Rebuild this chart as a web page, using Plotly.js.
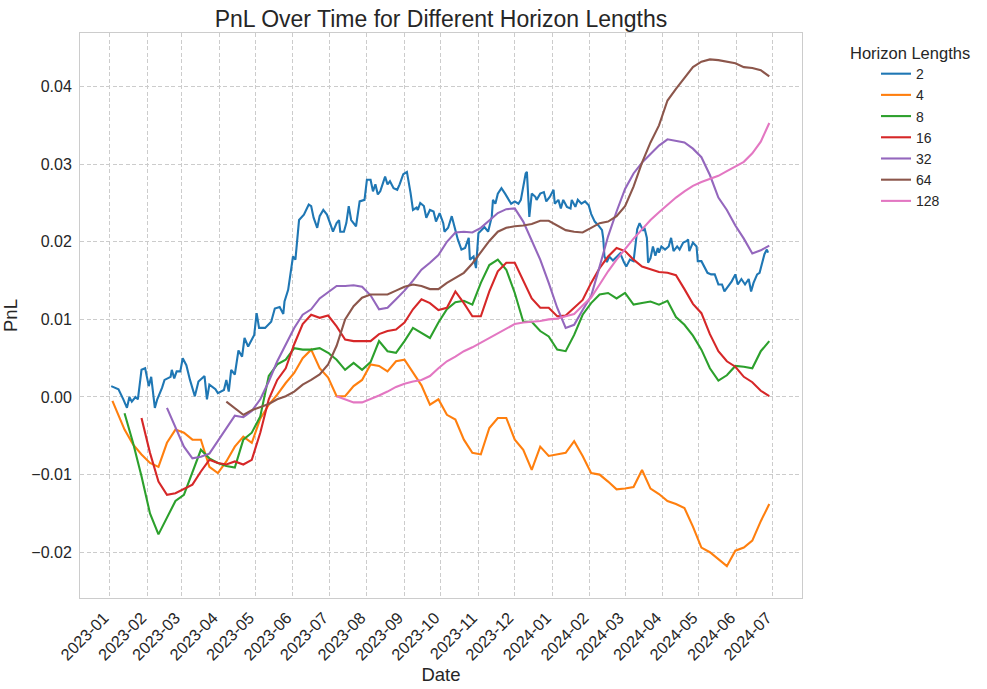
<!DOCTYPE html>
<html>
<head>
<meta charset="utf-8">
<script src="https://cdn.plot.ly/plotly-3.0.1.min.js"></script>
<style>
  html, body { margin: 0; padding: 0; background: #fff; }
  #chart { width: 987px; height: 689px; }
</style>
</head>
<body>
<div id="chart"></div>
<script>
// horizon 2 is noisy, so it keeps its own (denser) dates
var dates_2 = [
  "2023-01-02", "2023-01-08", "2023-01-12", "2023-01-15", "2023-01-17", "2023-01-19", "2023-01-22", "2023-01-24", "2023-01-26", "2023-01-27", "2023-01-30",
  "2023-02-02", "2023-02-04", "2023-02-07", "2023-02-09", "2023-02-13", "2023-02-15", "2023-02-20", "2023-02-21", "2023-02-23", "2023-02-25", "2023-02-28",
  "2023-03-02", "2023-03-05", "2023-03-08", "2023-03-12", "2023-03-15", "2023-03-20", "2023-03-22", "2023-03-24", "2023-03-29", "2023-03-31",
  "2023-04-05", "2023-04-07", "2023-04-09", "2023-04-11", "2023-04-14", "2023-04-17", "2023-04-20", "2023-04-22", "2023-04-25", "2023-04-30",
  "2023-05-02", "2023-05-04", "2023-05-09", "2023-05-14", "2023-05-17", "2023-05-21", "2023-05-24", "2023-05-25", "2023-05-28",
  "2023-06-01", "2023-06-03", "2023-06-06", "2023-06-10", "2023-06-14", "2023-06-16", "2023-06-18", "2023-06-21", "2023-06-23", "2023-06-26", "2023-06-29",
  "2023-07-02", "2023-07-04", "2023-07-07", "2023-07-09", "2023-07-10", "2023-07-13", "2023-07-15", "2023-07-17", "2023-07-19", "2023-07-23", "2023-07-26", "2023-07-30",
  "2023-08-01", "2023-08-04", "2023-08-06", "2023-08-08", "2023-08-10", "2023-08-12", "2023-08-16", "2023-08-18", "2023-08-20", "2023-08-23", "2023-08-26", "2023-08-28", "2023-08-31",
  "2023-09-03", "2023-09-06", "2023-09-08", "2023-09-11", "2023-09-12", "2023-09-14", "2023-09-17", "2023-09-19", "2023-09-22", "2023-09-25", "2023-09-27", "2023-09-30",
  "2023-10-03", "2023-10-04", "2023-10-07", "2023-10-10", "2023-10-13", "2023-10-15", "2023-10-18", "2023-10-21", "2023-10-24", "2023-10-25", "2023-10-28", "2023-10-30",
  "2023-11-01", "2023-11-06", "2023-11-09", "2023-11-12", "2023-11-13", "2023-11-15", "2023-11-17", "2023-11-20", "2023-11-23", "2023-11-26", "2023-11-28",
  "2023-12-01", "2023-12-04", "2023-12-06", "2023-12-08", "2023-12-10", "2023-12-11", "2023-12-13", "2023-12-15", "2023-12-18", "2023-12-19", "2023-12-22", "2023-12-25", "2023-12-27", "2023-12-30",
  "2024-01-02", "2024-01-03", "2024-01-06", "2024-01-08", "2024-01-10", "2024-01-13", "2024-01-16", "2024-01-17", "2024-01-20", "2024-01-22", "2024-01-25", "2024-01-28", "2024-01-31",
  "2024-02-02", "2024-02-05", "2024-02-08", "2024-02-11", "2024-02-12", "2024-02-13", "2024-02-15", "2024-02-17", "2024-02-20", "2024-02-23", "2024-02-26", "2024-02-29",
  "2024-03-02", "2024-03-05", "2024-03-08", "2024-03-10", "2024-03-11", "2024-03-13", "2024-03-16", "2024-03-17", "2024-03-19", "2024-03-20", "2024-03-22", "2024-03-24", "2024-03-26", "2024-03-28", "2024-03-29", "2024-03-31",
  "2024-04-03", "2024-04-06", "2024-04-08", "2024-04-10", "2024-04-13", "2024-04-15", "2024-04-18", "2024-04-21", "2024-04-22", "2024-04-23", "2024-04-26", "2024-04-29", "2024-04-30",
  "2024-05-03", "2024-05-06", "2024-05-08", "2024-05-11", "2024-05-14", "2024-05-17", "2024-05-20", "2024-05-22", "2024-05-25", "2024-05-28", "2024-05-31",
  "2024-06-02", "2024-06-05", "2024-06-08", "2024-06-11", "2024-06-13", "2024-06-15", "2024-06-18", "2024-06-20", "2024-06-22", "2024-06-24", "2024-06-26", "2024-06-27"
];

var pnl_2 = [
  0.0014, 0.0010, -0.0003, -0.0014, 0.0000, -0.0006, 0.0000, -0.0003, 0.0022, 0.0035, 0.0037,
  0.0014, 0.0026, -0.0014, -0.0003, 0.0012, 0.0022, 0.0026, 0.0035, 0.0024, 0.0033, 0.0033,
  0.0050, 0.0041, 0.0022, 0.0001, 0.0020, 0.0027, -0.0003, 0.0016, 0.0010, 0.0005,
  0.0009, 0.0022, 0.0007, 0.0035, 0.0029, 0.0060, 0.0052, 0.0076, 0.0065, 0.0080,
  0.0108, 0.0089, 0.0089, 0.0097, 0.0114, 0.0116, 0.0107, 0.0123, 0.0138,
  0.0181, 0.0177, 0.0228, 0.0235, 0.0248, 0.0246, 0.0231, 0.0218, 0.0233, 0.0241, 0.0235,
  0.0222, 0.0213, 0.0224, 0.0228, 0.0213, 0.0213, 0.0224, 0.0246, 0.0228, 0.0220, 0.0252, 0.0254,
  0.0280, 0.0280, 0.0265, 0.0274, 0.0261, 0.0265, 0.0284, 0.0274, 0.0278, 0.0269, 0.0267, 0.0274, 0.0287,
  0.0290, 0.0263, 0.0241, 0.0244, 0.0241, 0.0250, 0.0246, 0.0231, 0.0241, 0.0239, 0.0226, 0.0237,
  0.0224, 0.0213, 0.0218, 0.0233, 0.0213, 0.0203, 0.0190, 0.0192, 0.0205, 0.0177, 0.0181, 0.0166,
  0.0211, 0.0219, 0.0213, 0.0232, 0.0254, 0.0249, 0.0262, 0.0269, 0.0262, 0.0254, 0.0249,
  0.0252, 0.0249, 0.0254, 0.0271, 0.0288, 0.0290, 0.0232, 0.0262, 0.0258, 0.0254, 0.0262, 0.0264, 0.0252, 0.0258,
  0.0267, 0.0249, 0.0254, 0.0243, 0.0254, 0.0245, 0.0243, 0.0254, 0.0245, 0.0254, 0.0249, 0.0252, 0.0247,
  0.0236, 0.0226, 0.0221, 0.0215, 0.0204, 0.0181, 0.0174, 0.0181, 0.0176, 0.0181, 0.0185, 0.0174,
  0.0168, 0.0177, 0.0175, 0.0201, 0.0216, 0.0224, 0.0214, 0.0218, 0.0205, 0.0173, 0.0179, 0.0194, 0.0182, 0.0192, 0.0186, 0.0194,
  0.0190, 0.0194, 0.0205, 0.0188, 0.0194, 0.0190, 0.0199, 0.0201, 0.0203, 0.0188, 0.0199, 0.0194, 0.0175,
  0.0175, 0.0167, 0.0160, 0.0158, 0.0158, 0.0145, 0.0145, 0.0136, 0.0143, 0.0149, 0.0158,
  0.0145, 0.0152, 0.0145, 0.0152, 0.0136, 0.0147, 0.0158, 0.0160, 0.0171, 0.0184, 0.0190, 0.0186
];

// weekly samples for the other horizons
var dates = [
  "2023-01-03", "2023-01-13", "2023-01-20", "2023-01-27",
  "2023-02-03", "2023-02-10", "2023-02-17", "2023-02-24",
  "2023-03-03", "2023-03-10", "2023-03-17", "2023-03-24", "2023-03-31",
  "2023-04-07", "2023-04-14", "2023-04-21", "2023-04-28",
  "2023-05-05", "2023-05-12", "2023-05-19", "2023-05-26",
  "2023-06-02", "2023-06-09", "2023-06-16", "2023-06-23", "2023-06-30",
  "2023-07-07", "2023-07-14", "2023-07-21", "2023-07-28",
  "2023-08-04", "2023-08-11", "2023-08-18", "2023-08-25",
  "2023-09-01", "2023-09-08", "2023-09-15", "2023-09-22", "2023-09-29",
  "2023-10-06", "2023-10-13", "2023-10-20", "2023-10-27",
  "2023-11-03", "2023-11-10", "2023-11-17", "2023-11-24",
  "2023-12-01", "2023-12-08", "2023-12-15", "2023-12-22", "2023-12-29",
  "2024-01-05", "2024-01-12", "2024-01-19", "2024-01-26",
  "2024-02-02", "2024-02-09", "2024-02-16", "2024-02-23",
  "2024-03-01", "2024-03-08", "2024-03-15", "2024-03-22", "2024-03-29",
  "2024-04-05", "2024-04-12", "2024-04-19", "2024-04-26",
  "2024-05-03", "2024-05-10", "2024-05-17", "2024-05-24", "2024-05-31",
  "2024-06-07", "2024-06-14", "2024-06-21", "2024-06-28"
];

var pnl_4 = [
  -0.0005, -0.0042, -0.0061, -0.0074, -0.0085, -0.0090, -0.0059, -0.0042,
  -0.0046, -0.0055, -0.0055, -0.0090, -0.0098, -0.0083, -0.0064, -0.0051, -0.0059,
  -0.0028, -0.0010, 0.0003, 0.0018, 0.0031, 0.0050, 0.0061, 0.0037, 0.0025,
  0.0001, 0.0001, 0.0014, 0.0022, 0.0042, 0.0040, 0.0033, 0.0046,
  0.0048, 0.0031, 0.0015, -0.0010, -0.0003, -0.0023, -0.0029, -0.0055, -0.0072,
  -0.0074, -0.0040, -0.0027, -0.0027, -0.0055, -0.0068, -0.0094, -0.0064, -0.0076,
  -0.0074, -0.0072, -0.0057, -0.0076, -0.0098, -0.0100, -0.0109, -0.0119,
  -0.0118, -0.0116, -0.0094, -0.0118, -0.0125, -0.0134, -0.0138, -0.0143, -0.0167,
  -0.0194, -0.0200, -0.0209, -0.0218, -0.0198, -0.0194, -0.0185, -0.0160, -0.0138
];

var pnl_8 = [
  null, -0.0021, -0.0059, -0.0102, -0.0150, -0.0177, -0.0156, -0.0134,
  -0.0126, -0.0098, -0.0068, -0.0079, -0.0085, -0.0089, -0.0091, -0.0055, -0.0046,
  -0.0025, 0.0027, 0.0042, 0.0048, 0.0063, 0.0061, 0.0061, 0.0063, 0.0057,
  0.0048, 0.0035, 0.0044, 0.0035, 0.0045, 0.0072, 0.0059, 0.0057,
  0.0072, 0.0089, 0.0083, 0.0076, 0.0096, 0.0113, 0.0122, 0.0124, 0.0119,
  0.0147, 0.0170, 0.0177, 0.0164, 0.0134, 0.0097, 0.0097, 0.0085, 0.0078,
  0.0061, 0.0059, 0.0080, 0.0106, 0.0121, 0.0132, 0.0134, 0.0127,
  0.0134, 0.0119, 0.0121, 0.0123, 0.0119, 0.0124, 0.0103, 0.0093, 0.0079,
  0.0061, 0.0037, 0.0021, 0.0028, 0.0040, 0.0039, 0.0037, 0.0059, 0.0072
];

var pnl_16 = [
  null, null, null, -0.0027, -0.0072, -0.0109, -0.0126, -0.0124,
  -0.0119, -0.0113, -0.0096, -0.0081, -0.0085, -0.0087, -0.0083, -0.0087, -0.0081,
  -0.0046, -0.0003, 0.0022, 0.0037, 0.0068, 0.0094, 0.0106, 0.0102, 0.0105,
  0.0091, 0.0074, 0.0072, 0.0072, 0.0072, 0.0081, 0.0085, 0.0087,
  0.0096, 0.0113, 0.0126, 0.0121, 0.0112, 0.0115, 0.0136, 0.0121, 0.0104,
  0.0104, 0.0136, 0.0162, 0.0173, 0.0173, 0.0151, 0.0127, 0.0115, 0.0115,
  0.0104, 0.0105, 0.0115, 0.0125, 0.0147, 0.0166, 0.0181, 0.0192,
  0.0188, 0.0177, 0.0168, 0.0164, 0.0161, 0.0160, 0.0157, 0.0139, 0.0120,
  0.0108, 0.0081, 0.0059, 0.0046, 0.0039, 0.0026, 0.0019, 0.0008, 0.0001
];

var pnl_32 = [
  null, null, null, null, null, null, -0.0014, -0.0040,
  -0.0064, -0.0079, -0.0077, -0.0073, -0.0057, -0.0040, -0.0024, -0.0026, -0.0018,
  -0.0003, 0.0020, 0.0046, 0.0068, 0.0089, 0.0106, 0.0113, 0.0127, 0.0135,
  0.0143, 0.0143, 0.0144, 0.0142, 0.0131, 0.0113, 0.0115, 0.0126,
  0.0137, 0.0150, 0.0164, 0.0173, 0.0183, 0.0200, 0.0212, 0.0213, 0.0212,
  0.0218, 0.0228, 0.0237, 0.0242, 0.0243, 0.0226, 0.0202, 0.0177, 0.0147,
  0.0115, 0.0089, 0.0093, 0.0112, 0.0130, 0.0168, 0.0207, 0.0239,
  0.0268, 0.0288, 0.0302, 0.0313, 0.0324, 0.0332, 0.0330, 0.0328, 0.0320,
  0.0309, 0.0286, 0.0257, 0.0241, 0.0221, 0.0204, 0.0185, 0.0189, 0.0195
];

var pnl_64 = [
  null, null, null, null, null, null, null, null,
  null, null, null, null, null, -0.0006, -0.0014, -0.0023, -0.0017,
  -0.0013, -0.0009, -0.0003, 0.0001, 0.0007, 0.0016, 0.0022, 0.0029, 0.0042,
  0.0066, 0.0100, 0.0117, 0.0128, 0.0132, 0.0132, 0.0132, 0.0137,
  0.0142, 0.0145, 0.0143, 0.0139, 0.0139, 0.0147, 0.0153, 0.0160, 0.0172,
  0.0186, 0.0201, 0.0213, 0.0218, 0.0220, 0.0221, 0.0223, 0.0227, 0.0227,
  0.0221, 0.0215, 0.0213, 0.0212, 0.0218, 0.0224, 0.0226, 0.0233,
  0.0246, 0.0271, 0.0302, 0.0328, 0.0350, 0.0382, 0.0397, 0.0411, 0.0425,
  0.0432, 0.0435, 0.0434, 0.0432, 0.0430, 0.0425, 0.0424, 0.0421, 0.0413
];

var pnl_128 = [
  null, null, null, null, null, null, null, null,
  null, null, null, null, null, null, null, null, null,
  null, null, null, null, null, null, null, null, null,
  0.0001, -0.0003, -0.0007, -0.0007, -0.0003, 0.0002, 0.0007, 0.0013,
  0.0017, 0.0020, 0.0022, 0.0027, 0.0037, 0.0046, 0.0052, 0.0059, 0.0064,
  0.0070, 0.0076, 0.0082, 0.0089, 0.0094, 0.0096, 0.0097, 0.0098, 0.0100,
  0.0101, 0.0104, 0.0107, 0.0118, 0.0128, 0.0145, 0.0162, 0.0177,
  0.0191, 0.0204, 0.0216, 0.0228, 0.0238, 0.0248, 0.0257, 0.0265, 0.0272,
  0.0277, 0.0281, 0.0285, 0.0291, 0.0297, 0.0303, 0.0314, 0.0329, 0.0353
];

var horizons = ["2", "4", "8", "16", "32", "64", "128"];
var series = [pnl_2, pnl_4, pnl_8, pnl_16, pnl_32, pnl_64, pnl_128];
var series_x = [dates_2, dates, dates, dates, dates, dates, dates];
var colors = ["#1f77b4", "#ff7f0e", "#2ca02c", "#d62728", "#9467bd", "#8c564b", "#e377c2"];

var y_ticks = [-0.02, -0.01, 0.0, 0.01, 0.02, 0.03, 0.04];
var y_ticktext = ["\u22120.02", "\u22120.01", "0.00", "0.01", "0.02", "0.03", "0.04"];

var traces = [];
for (var i = 0; i < horizons.length; i++) {
  traces.push({
    x: series_x[i],
    y: series[i],
    name: horizons[i],
    type: 'scatter',
    mode: 'lines',
    line: {color: colors[i], width: 2.1},
    connectgaps: false
  });
}

var textColor = '#262626';
var font = "'Liberation Sans', Arial, sans-serif";

var layout = {
  width: 987,
  height: 689,
  margin: {l: 80, r: 185, t: 33, b: 91},
  paper_bgcolor: '#ffffff',
  plot_bgcolor: '#ffffff',
  font: {family: font, color: textColor},
  title: {
    text: 'PnL Over Time for Different Horizon Lengths',
    font: {size: 23, color: textColor},
    x: 0.5, xref: 'paper', xanchor: 'center',
    y: 0.972, yref: 'container', yanchor: 'middle'
  },
  xaxis: {
    type: 'date',
    range: ['2022-12-07 06:00', '2024-07-25'],
    tick0: '2023-01-01',
    dtick: 'M1',
    tickformat: '%Y-%m',
    tickangle: -45,
    tickfont: {size: 16.3, color: textColor},
    ticks: '',
    ticklabelshift: -6,
    ticklabelstandoff: 3,
    showgrid: true,
    gridcolor: '#cccccc',
    gridwidth: 1,
    griddash: '4px,2.5px',
    showline: true,
    mirror: true,
    linecolor: '#cccccc',
    linewidth: 1,
    zeroline: false,
    automargin: false,
    title: {text: 'Date', font: {size: 18.5, color: textColor}, standoff: 0}
  },
  yaxis: {
    range: [-0.0259, 0.0469],
    tickmode: 'array',
    tickvals: y_ticks,
    ticktext: y_ticktext,
    tickfont: {size: 16, color: textColor},
    ticks: '',
    ticklabelstandoff: 4,
    showgrid: true,
    gridcolor: '#cccccc',
    gridwidth: 1,
    griddash: '4px,2.5px',
    showline: true,
    mirror: true,
    linecolor: '#cccccc',
    linewidth: 1,
    zeroline: false,
    automargin: false,
    title: {text: 'PnL', font: {size: 18.5, color: textColor}, standoff: 8}
  },
  showlegend: true,
  legend: {
    x: 1.1025, xanchor: 'left',
    y: 0.9556, yanchor: 'top',
    bgcolor: 'rgba(0,0,0,0)',
    font: {size: 14, color: textColor},
    tracegroupgap: 0
  },
  annotations: [{
    text: 'Horizon Lengths',
    xref: 'paper', yref: 'paper',
    x: 1.15, y: 0.965,
    xanchor: 'center', yanchor: 'middle',
    showarrow: false,
    font: {size: 16.5, color: textColor}
  }]
};

Plotly.newPlot('chart', traces, layout, {displayModeBar: false, responsive: false});
</script>
</body>
</html>
